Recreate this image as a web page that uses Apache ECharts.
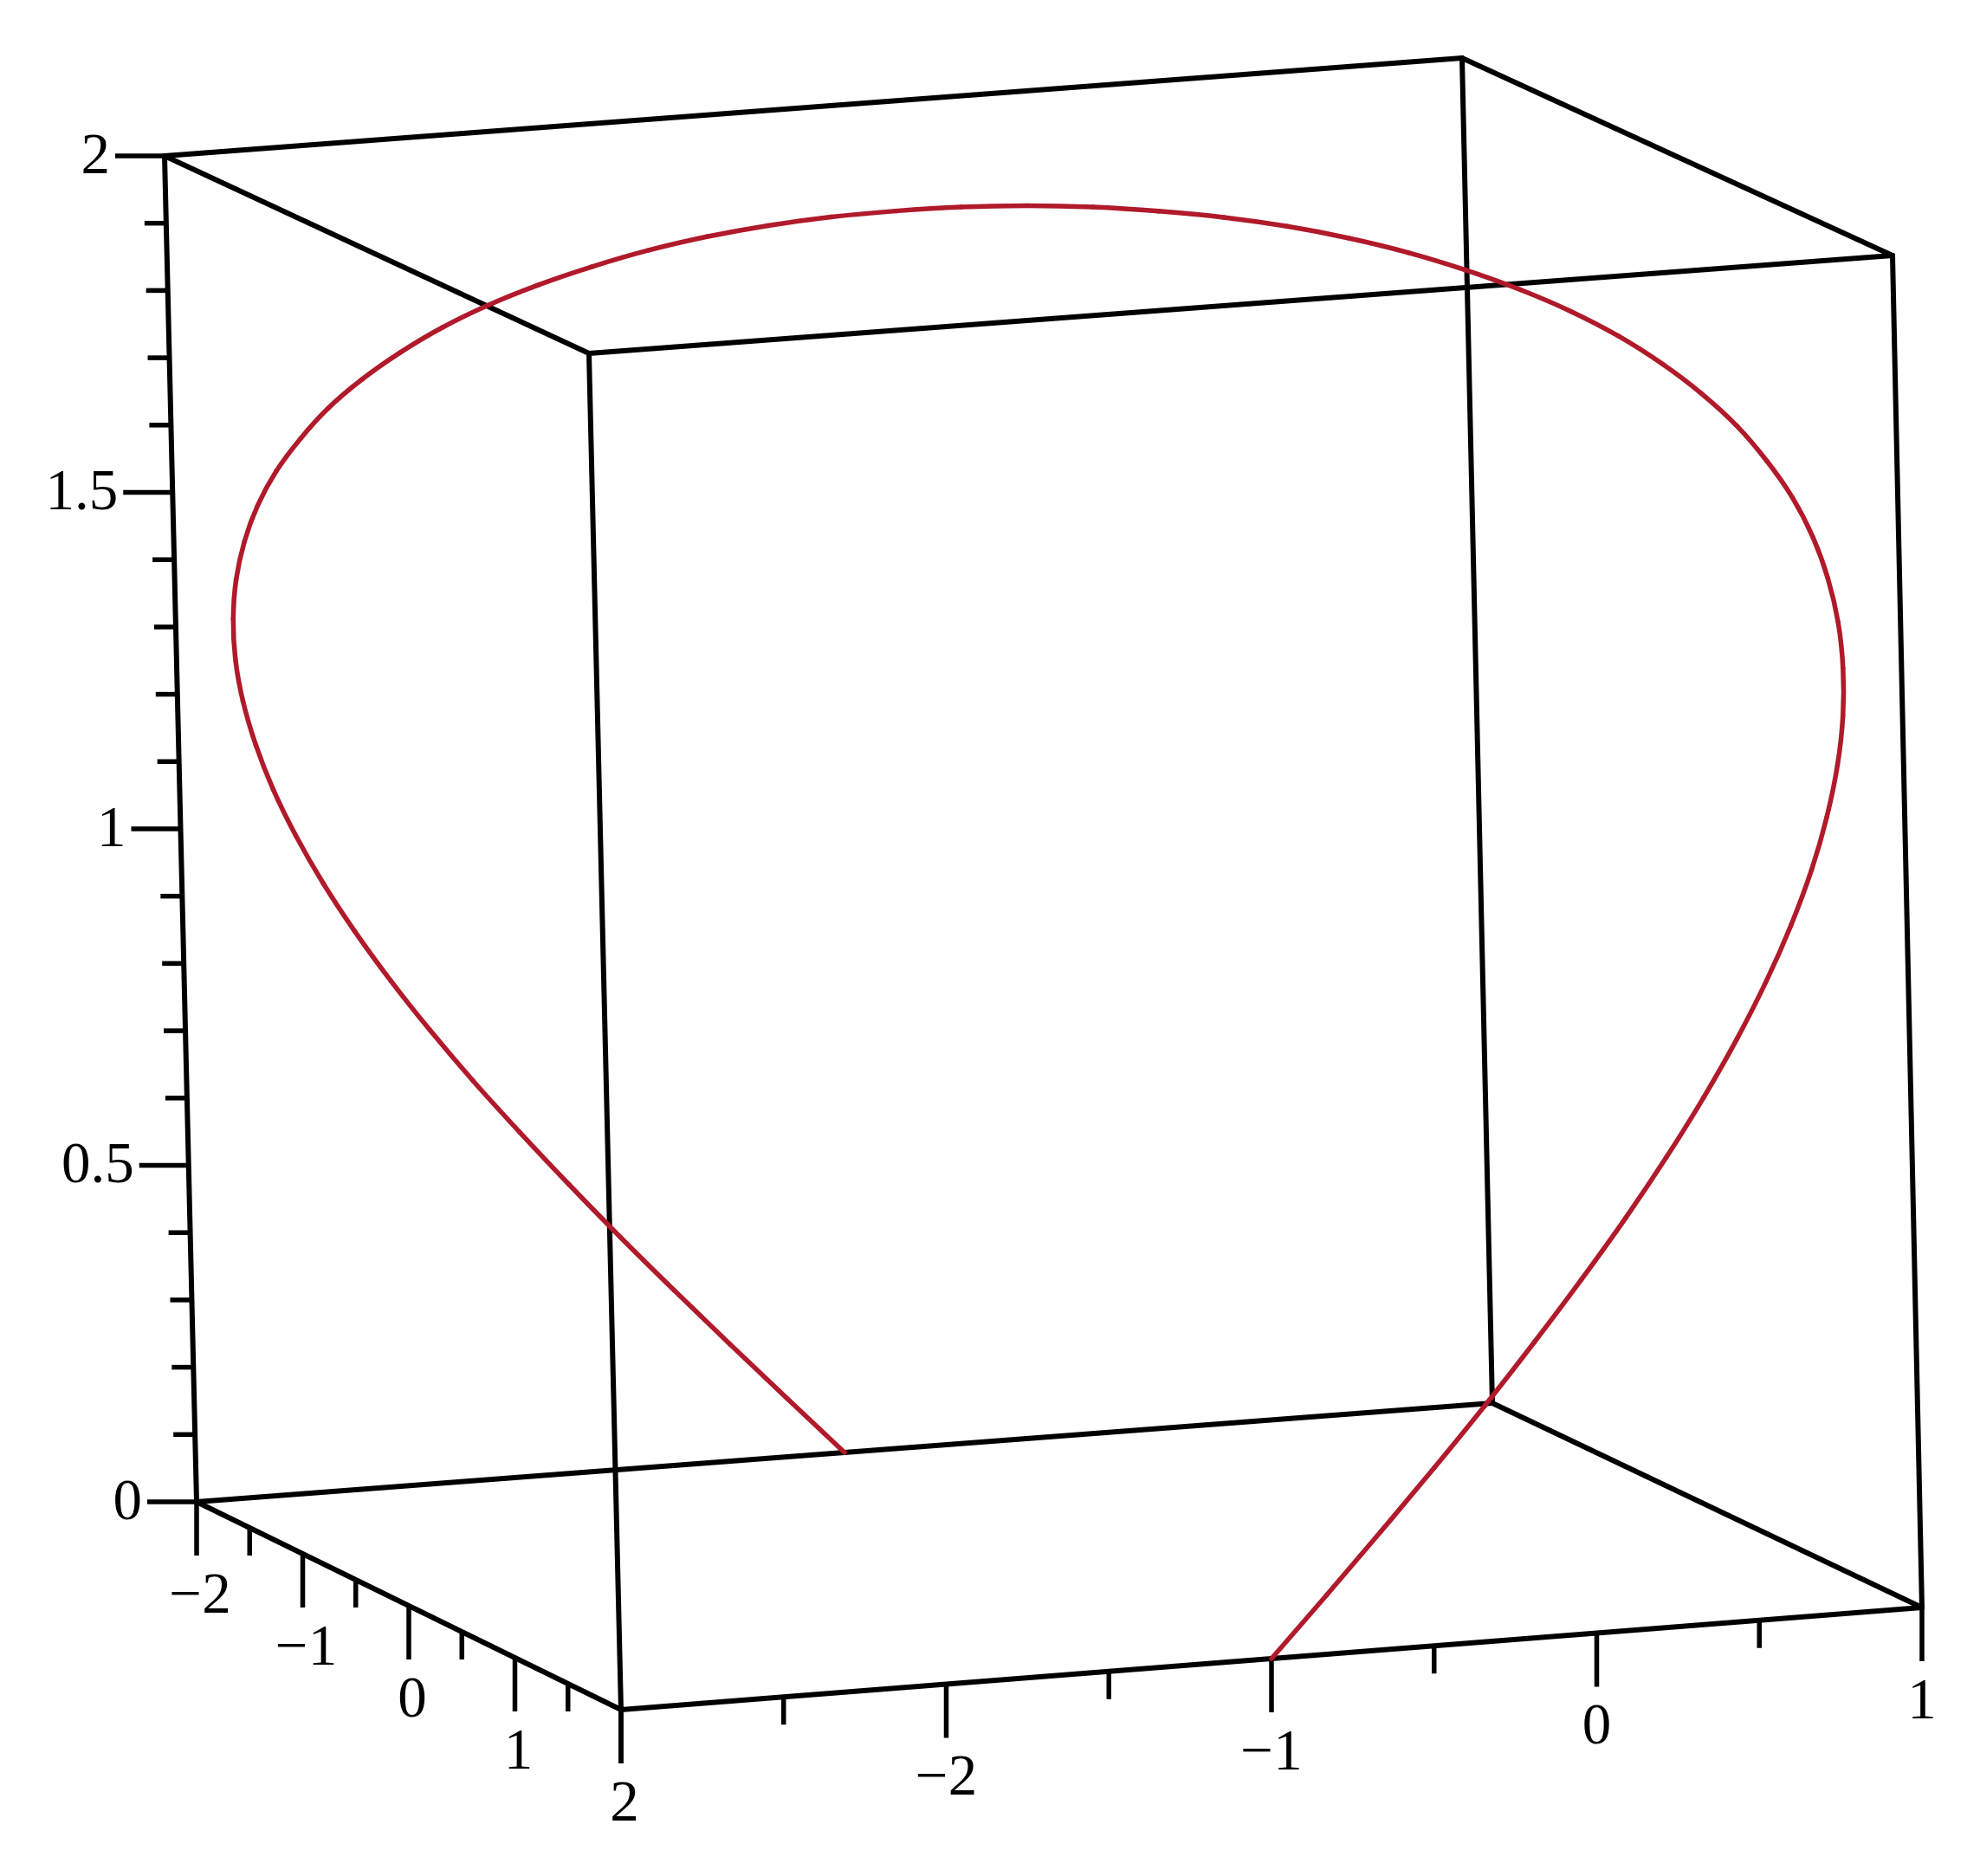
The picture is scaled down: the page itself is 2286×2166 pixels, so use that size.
<!DOCTYPE html>
<html>
<head>
<meta charset="utf-8">
<script src="https://cdn.jsdelivr.net/npm/echarts@6/dist/echarts.min.js"></script>
<style>html,body{margin:0;padding:0;background:#fff}#chart{width:2286px;height:2166px}</style>
</head>
<body>
<div id="chart"></div>
<script>
// ---- data (space curve, x / y / z of each sample) ----
const curveX = [-1, -0.826, -0.653, -0.482, -0.316, -0.155, 0, 0.147, 0.286, 0.414, 0.532, 0.638, 0.732, 0.813, 0.879, 0.932, 0.970, 0.992, 1,
  0.992, 0.970, 0.932, 0.879, 0.813, 0.732, 0.638, 0.532, 0.414, 0.286, 0.147, 0, -0.155, -0.316, -0.482, -0.653, -0.826, -1,
  -1.174, -1.347, -1.518, -1.684, -1.845, -2, -2.147, -2.286, -2.414, -2.532, -2.638, -2.732, -2.813, -2.879, -2.932, -2.970, -2.992, -3,
  -2.992, -2.970, -2.932, -2.879, -2.813, -2.732, -2.638, -2.532, -2.414, -2.286, -2.147, -2, -1.845, -1.684, -1.518, -1.347, -1.174, -1];
const curveY = [2, 1.998, 1.992, 1.983, 1.970, 1.953, 1.932, 1.907, 1.879, 1.848, 1.813, 1.774, 1.732, 1.687, 1.638, 1.587, 1.532, 1.475, 1.414,
  1.351, 1.286, 1.218, 1.147, 1.075, 1.000, 0.923, 0.845, 0.765, 0.684, 0.601, 0.518, 0.433, 0.347, 0.261, 0.174, 0.087, 0,
  -0.087, -0.174, -0.261, -0.347, -0.433, -0.518, -0.601, -0.684, -0.765, -0.845, -0.923, -1.000, -1.075, -1.147, -1.218, -1.286, -1.351, -1.414,
  -1.475, -1.532, -1.587, -1.638, -1.687, -1.732, -1.774, -1.813, -1.848, -1.879, -1.907, -1.932, -1.953, -1.970, -1.983, -1.992, -1.998, -2];
const curveZ = [0, 0.087, 0.174, 0.261, 0.347, 0.433, 0.518, 0.601, 0.684, 0.765, 0.845, 0.923, 1.000, 1.075, 1.147, 1.218, 1.286, 1.351, 1.414,
  1.475, 1.532, 1.587, 1.638, 1.687, 1.732, 1.774, 1.813, 1.848, 1.879, 1.907, 1.932, 1.953, 1.970, 1.983, 1.992, 1.998, 2,
  1.998, 1.992, 1.983, 1.970, 1.953, 1.932, 1.907, 1.879, 1.848, 1.813, 1.774, 1.732, 1.687, 1.638, 1.587, 1.532, 1.475, 1.414,
  1.351, 1.286, 1.218, 1.147, 1.075, 1.000, 0.923, 0.845, 0.765, 0.684, 0.601, 0.518, 0.433, 0.347, 0.261, 0.174, 0.087, 0];

// axis ranges and tick labels
const xRange = [-3, 1];
const yRange = [-2, 2];
const zRange = [0, 2];
const xTickLabels = ['\u22122', '\u22121', '0', '1'];
const xTickValues = [-2, -1, 0, 1];
const yTickLabels = ['\u22122', '\u22121', '0', '1', '2'];
const yTickValues = [-2, -1, 0, 1, 2];
const zTickLabels = ['0', '0.5', '1', '1.5', '2'];
const zTickValues = [0, 0.5, 1, 1.5, 2];

// ---- layout: screen position of the 8 box corners (view of the box) ----
const W = 2286, H = 2166;
const corner = {
  '000': [227, 1734], '100': [1723, 1620], '110': [2219, 1856], '010': [717, 1974],
  '001': [190, 180],  '101': [1688, 67],   '111': [2185, 295],  '011': [680, 408]
};
function proj(x, y, z) {
  const u = (x - xRange[0]) / (xRange[1] - xRange[0]);
  const v = (y - yRange[0]) / (yRange[1] - yRange[0]);
  const w = (z - zRange[0]) / (zRange[1] - zRange[0]);
  let px = 0, py = 0;
  for (const a of [0, 1]) for (const b of [0, 1]) for (const c of [0, 1]) {
    const wt = (a ? u : 1 - u) * (b ? v : 1 - v) * (c ? w : 1 - w);
    const p = corner['' + a + b + c];
    px += wt * p[0]; py += wt * p[1];
  }
  return [px, py];
}

// box edges
const X0 = xRange[0], X1 = xRange[1], Y0 = yRange[0], Y1 = yRange[1], Z0 = zRange[0], Z1 = zRange[1];
const edges3d = [
  [X0, Y0, Z0, X1, Y0, Z0], [X1, Y0, Z0, X1, Y1, Z0], [X1, Y1, Z0, X0, Y1, Z0], [X0, Y1, Z0, X0, Y0, Z0],
  [X0, Y0, Z1, X1, Y0, Z1], [X1, Y0, Z1, X1, Y1, Z1], [X1, Y1, Z1, X0, Y1, Z1], [X0, Y1, Z1, X0, Y0, Z1],
  [X0, Y0, Z0, X0, Y0, Z1], [X1, Y0, Z0, X1, Y0, Z1], [X1, Y1, Z0, X1, Y1, Z1], [X0, Y1, Z0, X0, Y1, Z1]
];
const edgeData = edges3d.map(e => proj(e[0], e[1], e[2]).concat(proj(e[3], e[4], e[5])));

// ticks: [px, py, dx, dy]
const MAJ = 62, MIN = 32, ZMAJ = 57, ZMIN = 25;
const tickData = [];
function near(v, step) { return Math.abs(v / step - Math.round(v / step)) < 1e-6; }
for (let i = 0; i <= 8; i++) {
  const x = X0 + i * 0.5; const p = proj(x, Y1, Z0);
  tickData.push([p[0], p[1], 0, near(x, 1) ? MAJ : MIN]);
}
for (let i = 0; i <= 8; i++) {
  const y = Y0 + i * 0.5; const p = proj(X0, y, Z0);
  tickData.push([p[0], p[1], 0, near(y, 1) ? MAJ : MIN]);
}
for (let i = 0; i <= 20; i++) {
  const z = Z0 + i * 0.1; const p = proj(X0, Y0, z);
  tickData.push([p[0], p[1], near(z, 0.5) ? -ZMAJ : -ZMIN, 0]);
}

// labels: [px, py, text, align]
const labelData = [];
xTickValues.forEach((v, i) => { const p = proj(v, Y1, Z0); labelData.push([p[0], p[1] + MAJ + 48, xTickLabels[i], 'center']); });
yTickValues.forEach((v, i) => { const p = proj(X0, v, Z0); labelData.push([p[0] + 4, p[1] + MAJ + 48, yTickLabels[i], 'center']); });
zTickValues.forEach((v, i) => { const p = proj(X0, Y0, v); labelData.push([p[0] - ZMAJ - 6, p[1] + 2, zTickLabels[i], 'right']); });

const curveData = curveX.map((x, i) => proj(x, curveY[i], curveZ[i]));
const segData = curveData.slice(0, -1).map((p, i) => [p[0], p[1], i]);

const chart = echarts.init(document.getElementById('chart'), null, { renderer: 'canvas' });
chart.setOption({
  backgroundColor: '#ffffff',
  animation: false,
  grid: { left: 0, right: 0, top: 0, bottom: 0 },
  xAxis: { type: 'value', min: 0, max: W, show: false },
  yAxis: { type: 'value', min: 0, max: H, inverse: true, show: false },
  series: [
    {
      type: 'custom', data: edgeData, silent: true, z: 2,
      renderItem: function (params, api) {
        const a = api.coord([api.value(0), api.value(1)]);
        const b = api.coord([api.value(2), api.value(3)]);
        return { type: 'line', shape: { x1: a[0], y1: a[1], x2: b[0], y2: b[1] },
          style: { stroke: '#000', lineWidth: 6, lineCap: 'round' } };
      }
    },
    {
      type: 'custom', data: tickData, silent: true, z: 2,
      renderItem: function (params, api) {
        const a = api.coord([api.value(0), api.value(1)]);
        return { type: 'line', shape: { x1: a[0], y1: a[1], x2: a[0] + api.value(2), y2: a[1] + api.value(3) },
          style: { stroke: '#000', lineWidth: 5.5 } };
      }
    },
    {
      type: 'custom', data: labelData, silent: true, z: 3,
      dimensions: ['x', 'y', { name: 't', type: 'ordinal' }, { name: 'al', type: 'ordinal' }],
      renderItem: function (params, api) {
        const d = labelData[params.dataIndex];
        const a = api.coord([d[0], d[1]]);
        return { type: 'text', x: a[0], y: a[1],
          style: { text: d[2], fill: '#000', fontSize: 67, fontFamily: 'Liberation Serif, Times New Roman, serif',
            align: d[3], verticalAlign: 'middle' } };
      }
    },
    {
      // curve drawn as a Catmull-Rom spline through the projected samples
      type: 'custom', data: segData, silent: true, z: 4,
      renderItem: function (params, api) {
        const i = params.dataIndex, n = curveData.length;
        const c = k => api.coord(curveData[Math.max(0, Math.min(n - 1, k))]);
        const p0 = c(i - 1), p1 = c(i), p2 = c(i + 1), p3 = c(i + 2);
        return { type: 'bezierCurve',
          shape: { x1: p1[0], y1: p1[1], x2: p2[0], y2: p2[1],
            cpx1: p1[0] + (p2[0] - p0[0]) / 6, cpy1: p1[1] + (p2[1] - p0[1]) / 6,
            cpx2: p2[0] - (p3[0] - p1[0]) / 6, cpy2: p2[1] - (p3[1] - p1[1]) / 6 },
          style: { stroke: '#B01A2A', lineWidth: 5.5, fill: null, lineCap: 'round' } };
      }
    }
  ]
});
</script>
</body>
</html>
